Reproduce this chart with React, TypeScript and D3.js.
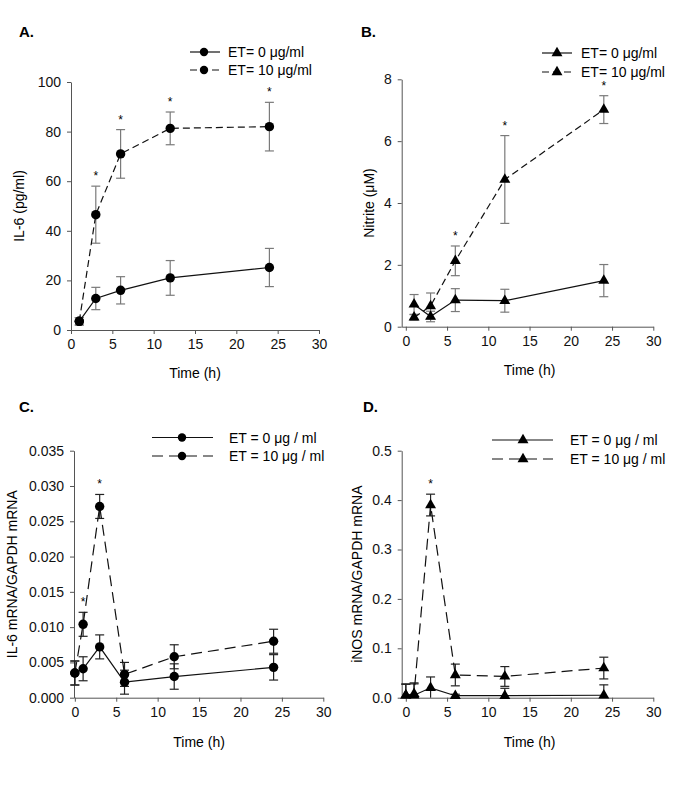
import * as d3 from "d3";
import { useEffect, useRef } from "react";

// time points (h)
const timesProtein = [1, 3, 6, 12, 24];
const timesMrna = [0, 1, 3, 6, 12, 24];
const xTicks = [0, 5, 10, 15, 20, 25, 30];

// A. IL-6 protein (pg/ml)
const il6Ctrl = [3.5, 12.7, 16, 21, 25.2];
const il6CtrlErr = [1.5, 4.5, 5.5, 7, 7.7];
const il6Et = [3.5, 46.5, 71, 81.3, 82];
const il6EtErr = [1.5, 11.5, 9.8, 6.6, 9.8];
const il6Stars = [3, 6, 12, 24];
const il6Ticks = [0, 20, 40, 60, 80, 100];

// B. Nitrite (uM)
const nitCtrl = [0.72, 0.33, 0.86, 0.84, 1.49];
const nitCtrlErr = [0.32, 0.17, 0.37, 0.37, 0.52];
const nitEt = [0.3, 0.67, 2.13, 4.76, 7.02];
const nitEtErr = [0.09, 0.42, 0.48, 1.42, 0.45];
const nitStars = [6, 12, 24];
const nitTicks = [0, 2, 4, 6, 8];

// C. IL-6 mRNA / GAPDH mRNA
const il6mCtrl = [0.0035, 0.0041, 0.0072, 0.0022, 0.003, 0.0043];
const il6mCtrlErr = [0.0017, 0.0017, 0.0017, 0.0017, 0.0018, 0.0018];
const il6mEt = [0.0035, 0.0104, 0.0271, 0.0033, 0.0058, 0.008];
const il6mEtErr = [0.0017, 0.0017, 0.0017, 0.0017, 0.0017, 0.0017];
const il6mStars = [1, 3];
const il6mTicks = [0, 0.005, 0.01, 0.015, 0.02, 0.025, 0.03, 0.035];

// D. iNOS mRNA / GAPDH mRNA
const inosCtrl = [0.005, 0.005, 0.02, 0.004, 0.004, 0.005];
const inosCtrlErr = [0.023, 0.023, 0.022, 0.003, 0.015, 0.021];
const inosEt = [0.005, 0.008, 0.39, 0.046, 0.043, 0.06];
const inosEtErr = [0.022, 0.022, 0.022, 0.022, 0.02, 0.022];
const inosStars = [3];
const inosTicks = [0, 0.1, 0.2, 0.3, 0.4, 0.5];

const FONT = "'Liberation Sans', Arial, Helvetica, sans-serif";

type Panel = {
  letter: string;
  letterX: number;
  letterY: number;
  xDomain: [number, number];
  xRange: [number, number];
  yDomain: [number, number];
  yRange: [number, number];
  yTicks: number[];
  yFormat: (v: number) => string;
  yTitle: string;
  yTitleX: number;
  xTitleY: number;
  times: number[];
  ctrl: number[];
  ctrlErr: number[];
  et: number[];
  etErr: number[];
  stars: number[];
  marker: "circle" | "triangle";
  dash: string;
  errColor: string;
  legend: { lineX0: number; lineX1: number; markX: number; textX: number; y0: number; y1: number };
  labels: [string, string];
};

const panels: Panel[] = [
  {
    letter: "A.", letterX: 19, letterY: 37,
    xDomain: [0, 30], xRange: [71, 319],
    yDomain: [0, 100], yRange: [330, 82],
    yTicks: il6Ticks, yFormat: d3.format("d"),
    yTitle: "IL-6 (pg/ml)", yTitleX: 24, xTitleY: 378,
    times: timesProtein, ctrl: il6Ctrl, ctrlErr: il6CtrlErr, et: il6Et, etErr: il6EtErr,
    stars: il6Stars, marker: "circle", dash: "7,4", errColor: "#7a7a7a",
    legend: { lineX0: 190, lineX1: 220, markX: 204, textX: 228, y0: 52, y1: 70 },
    labels: ["ET= 0 \u03bcg/ml", "ET= 10 \u03bcg/ml"],
  },
  {
    letter: "B.", letterX: 361, letterY: 37,
    xDomain: [-0.5, 30], xRange: [401.7, 653.3],
    yDomain: [0, 8], yRange: [326.7, 79.3],
    yTicks: nitTicks, yFormat: d3.format("d"),
    yTitle: "Nitrite (\u03bcM)", yTitleX: 374, xTitleY: 375,
    times: timesProtein, ctrl: nitCtrl, ctrlErr: nitCtrlErr, et: nitEt, etErr: nitEtErr,
    stars: nitStars, marker: "triangle", dash: "7,4", errColor: "#7a7a7a",
    legend: { lineX0: 542, lineX1: 572, markX: 557, textX: 581, y0: 53, y1: 72 },
    labels: ["ET= 0 \u03bcg/ml", "ET= 10 \u03bcg/ml"],
  },
  {
    letter: "C.", letterX: 19, letterY: 412,
    xDomain: [-0.1, 30], xRange: [74, 323.3],
    yDomain: [0, 0.035], yRange: [697.7, 450.7],
    yTicks: il6mTicks, yFormat: d3.format(".3f"),
    yTitle: "IL-6 mRNA/GAPDH mRNA", yTitleX: 17, xTitleY: 747,
    times: timesMrna, ctrl: il6mCtrl, ctrlErr: il6mCtrlErr, et: il6mEt, etErr: il6mEtErr,
    stars: il6mStars, marker: "circle", dash: "11,6", errColor: "#222",
    legend: { lineX0: 152, lineX1: 213, markX: 182, textX: 229, y0: 437.5, y1: 456 },
    labels: ["ET = 0 \u03bcg / ml", "ET = 10 \u03bcg / ml"],
  },
  {
    letter: "D.", letterX: 363, letterY: 412,
    xDomain: [-0.5, 30], xRange: [401.7, 653.3],
    yDomain: [0, 0.5], yRange: [697.7, 450.7],
    yTicks: inosTicks, yFormat: d3.format(".1f"),
    yTitle: "iNOS mRNA/GAPDH mRNA", yTitleX: 362, xTitleY: 747,
    times: timesMrna, ctrl: inosCtrl, ctrlErr: inosCtrlErr, et: inosEt, etErr: inosEtErr,
    stars: inosStars, marker: "triangle", dash: "11,6", errColor: "#222",
    legend: { lineX0: 492, lineX1: 553, markX: 523, textX: 570, y0: 440, y1: 459 },
    labels: ["ET = 0 \u03bcg / ml", "ET = 10 \u03bcg / ml"],
  },
];

const App = () => {
  const svgRef = useRef<SVGSVGElement | null>(null);

  useEffect(() => {
    if (!svgRef.current) return;
    const svg = d3.select(svgRef.current);
    svg.selectAll("*").remove();

    const triangle = d3.symbol().type(d3.symbolTriangle).size(52);

    panels.forEach((p) => {
      const g = svg.append("g");
      const x = d3.scaleLinear().domain(p.xDomain).range(p.xRange);
      const y = d3.scaleLinear().domain(p.yDomain).range(p.yRange);

      // panel letter
      g.append("text")
        .attr("x", p.letterX)
        .attr("y", p.letterY)
        .attr("font-size", 15)
        .attr("font-weight", "bold")
        .text(p.letter);

      // axes
      const xAxis = g.append("g")
        .attr("transform", `translate(0,${p.yRange[0]})`)
        .call(d3.axisBottom(x).tickValues(xTicks).tickSize(4).tickSizeOuter(0).tickPadding(5));
      const yAxis = g.append("g")
        .attr("transform", `translate(${p.xRange[0]},0)`)
        .call(d3.axisLeft(y).tickValues(p.yTicks).tickFormat((v) => p.yFormat(+v)).tickSize(4).tickSizeOuter(0).tickPadding(6));
      [xAxis, yAxis].forEach((a) => {
        a.selectAll("path, line").attr("stroke", "#555");
        a.selectAll("text").attr("font-size", 14).attr("font-family", FONT).attr("fill", "#111");
      });

      // axis titles
      g.append("text")
        .attr("x", (x(0) + x(30)) / 2)
        .attr("y", p.xTitleY)
        .attr("text-anchor", "middle")
        .attr("font-size", 14)
        .text("Time (h)");
      g.append("text")
        .attr("transform", `translate(${p.yTitleX},${(p.yRange[0] + p.yRange[1]) / 2}) rotate(-90)`)
        .attr("text-anchor", "middle")
        .attr("font-size", 14)
        .text(p.yTitle);

      const series = [
        { vals: p.ctrl, errs: p.ctrlErr, dash: null as string | null },
        { vals: p.et, errs: p.etErr, dash: p.dash },
      ];

      // error bars
      series.forEach((s) => {
        s.vals.forEach((v, i) => {
          const cx = x(p.times[i]);
          const lo = y(Math.max(p.yDomain[0], v - s.errs[i]));
          const hi = y(v + s.errs[i]);
          const eg = g.append("g").attr("stroke", p.errColor).attr("stroke-width", 1.2);
          eg.append("line").attr("x1", cx).attr("x2", cx).attr("y1", lo).attr("y2", hi);
          eg.append("line").attr("x1", cx - 4.5).attr("x2", cx + 4.5).attr("y1", hi).attr("y2", hi);
          if (v - s.errs[i] > p.yDomain[0])
            eg.append("line").attr("x1", cx - 4.5).attr("x2", cx + 4.5).attr("y1", lo).attr("y2", lo);
        });
      });

      // lines and markers
      series.forEach((s) => {
        const line = d3.line<number>()
          .x((_, i) => x(p.times[i]))
          .y((d) => y(d));
        g.append("path")
          .datum(s.vals)
          .attr("fill", "none")
          .attr("stroke", "#111")
          .attr("stroke-width", 1.2)
          .attr("stroke-dasharray", s.dash)
          .attr("d", line);
        s.vals.forEach((v, i) => {
          if (p.marker === "circle") {
            g.append("circle").attr("cx", x(p.times[i])).attr("cy", y(v)).attr("r", 4.7).attr("fill", "#000");
          } else {
            g.append("path")
              .attr("d", triangle()!)
              .attr("transform", `translate(${x(p.times[i])},${y(v)})`)
              .attr("fill", "#000");
          }
        });
      });

      // significance stars
      p.stars.forEach((t) => {
        const i = p.times.indexOf(t);
        g.append("text")
          .attr("x", x(t))
          .attr("y", y(p.et[i] + p.etErr[i]) - 6)
          .attr("text-anchor", "middle")
          .attr("font-size", 12)
          .text("*");
      });

      // legend
      const L = p.legend;
      [L.y0, L.y1].forEach((ly, k) => {
        g.append("line")
          .attr("x1", L.lineX0).attr("x2", L.lineX1)
          .attr("y1", ly).attr("y2", ly)
          .attr("stroke", "#111").attr("stroke-width", 1.2)
          .attr("stroke-dasharray", k === 0 ? null : p.dash);
        if (p.marker === "circle") {
          g.append("circle").attr("cx", L.markX).attr("cy", ly).attr("r", 4.2).attr("fill", "#000");
        } else {
          g.append("path").attr("d", triangle()!).attr("transform", `translate(${L.markX},${ly})`).attr("fill", "#000");
        }
        g.append("text")
          .attr("x", L.textX)
          .attr("y", ly + 5)
          .attr("font-size", 14)
          .text(p.labels[k]);
      });
    });
  }, []);

  return (
    <svg
      ref={svgRef}
      width={685}
      height={807}
      style={{ position: "absolute", left: 0, top: 0, background: "#fff", fontFamily: FONT }}
    />
  );
};

export default App;
